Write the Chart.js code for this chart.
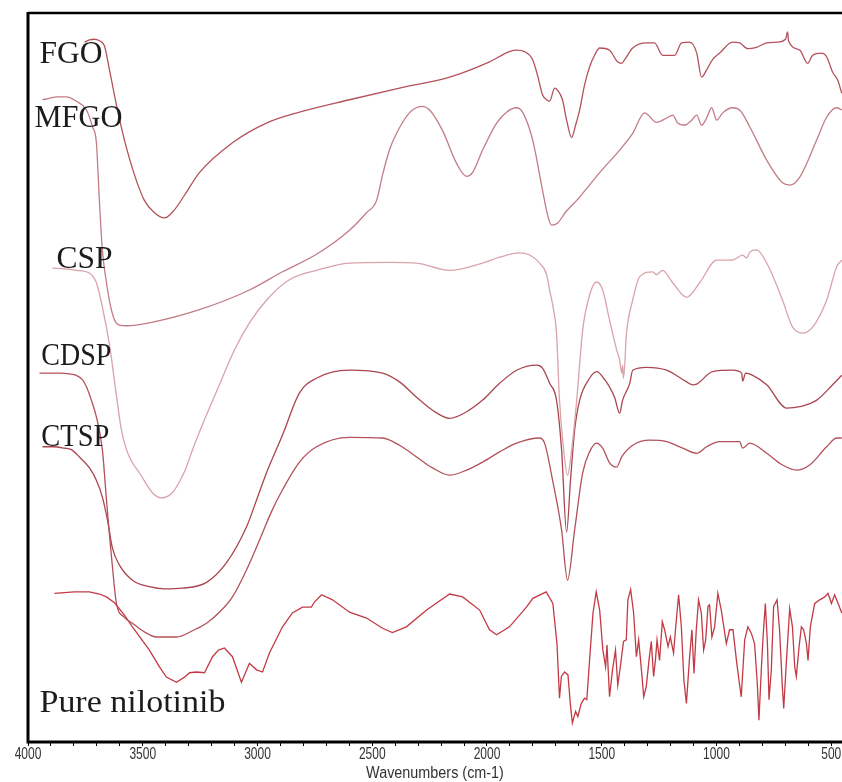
<!DOCTYPE html>
<html>
<head>
<meta charset="utf-8">
<script src="https://cdn.jsdelivr.net/npm/chart.js@4.4.1/dist/chart.umd.min.js"></script>
<style>
  html,body{margin:0;padding:0;background:#fff;}
  #wrap{width:842px;height:782px;position:relative;}
</style>
</head>
<body>
<div id="wrap"><canvas id="c" width="842" height="782"></canvas></div>
<script>
// ---- x-axis tick labels (wavenumbers, cm-1) ----
const tickLabels = [4000, 3500, 3000, 2500, 2000, 1500, 1000, 500];
const axisTitle = 'Wavenumbers (cm-1)';

// ---- series: wavenumber (cm-1) and relative transmittance (offset %) ----
const fgoWn = [3754,3732,3711,3689,3667,3645,3610,3580,3536,3493,3449,3405,3362,3318,3253,3109,2961,2817,2599,2381,2163,1989,1902,1871,1836,1801,1780,1758,1740,1727,1705,1692,1671,1653,1631,1614,1596,1575,1553,1531,1509,1466,1431,1413,1400,1365,1304,1270,1235,1182,1152,1117,1086,1065,1043,1017,986,930,899,864,825,781,733,699,690,686,637,603,581,542,520,494,472,454];
const fgoT  = [96.0,96.3,96.4,96.2,95.5,92.2,86.7,82.6,77.8,74.3,72.6,71.9,73.0,75.0,78.1,82.2,84.9,86.4,88.1,89.7,91.2,93.3,94.7,94.9,94.7,93.6,91.5,88.8,88.1,87.9,89.7,89.4,88.1,85.3,82.9,84.6,86.7,90.1,92.6,94.2,95.2,94.9,93.3,93.1,93.6,95.2,95.9,95.9,94.2,94.2,95.9,96.0,94.5,91.2,92.2,93.6,94.5,96.0,95.9,95.1,95.3,95.9,96.0,96.4,97.4,96.2,94.9,93.1,94.2,94.5,94.0,91.9,90.8,89.0];

const mfgoWn = [3937,3907,3872,3833,3789,3745,3719,3702,3689,3676,3658,3641,3623,3602,3571,3471,3253,3035,2891,2743,2599,2525,2481,2455,2425,2394,2338,2285,2250,2194,2133,2089,2063,2019,1958,1915,1871,1845,1801,1758,1736,1718,1692,1657,1609,1509,1422,1365,1313,1261,1217,1191,1169,1139,1108,1086,1065,1043,1021,999,973,930,899,855,781,712,681,637,563,520,476,454];
const mfgoT  = [88.1,88.3,88.5,88.5,87.9,86.7,84.4,82.2,74.3,67.5,63.0,59.9,57.9,57.2,57.1,57.5,59.3,62.0,64.5,66.9,70.2,72.6,74.3,77.8,81.2,83.5,86.3,87.2,86.7,83.9,79.4,77.6,78.1,81.2,84.9,86.4,87.0,86.4,82.6,75.7,72.3,70.9,71.2,72.7,74.3,78.1,81.2,83.5,86.3,85.0,85.6,86.0,84.9,84.6,85.3,86.0,84.6,85.6,87.0,85.3,86.3,87.0,86.7,84.4,79.8,76.7,76.4,77.5,82.6,85.7,87.0,86.7];

const cspWn = [3894,3841,3789,3732,3702,3676,3645,3615,3593,3571,3545,3514,3458,3419,3371,3340,3310,3283,3231,3166,3100,3035,2961,2861,2743,2599,2425,2307,2163,2019,1945,1858,1814,1771,1740,1727,1710,1697,1684,1666,1649,1631,1609,1583,1553,1522,1496,1466,1435,1422,1413,1409,1405,1392,1365,1335,1278,1261,1235,1191,1130,1073,999,930,886,868,855,825,781,712,668,624,581,520,476,454];
const cspT  = [65.0,64.9,64.7,64.3,63.0,59.7,54.5,47.6,42.8,40.1,38.3,36.9,34.2,33.5,34.2,35.7,37.7,40.1,44.2,49.0,53.8,57.5,60.6,63.4,64.7,65.7,65.8,65.7,64.7,65.7,66.5,67.1,66.8,65.7,64.1,62.0,59.3,56.1,46.9,40.1,36.6,40.1,46.9,56.5,61.3,63.1,62.0,57.9,53.8,52.4,50.6,51.7,49.9,56.1,60.6,63.8,64.5,64.1,64.7,63.0,61.0,63.0,66.1,66.1,66.8,66.4,67.2,67.5,65.7,60.6,56.9,56.1,56.9,60.6,65.2,66.1];

const cdspWn = [3950,3907,3863,3820,3789,3763,3745,3724,3702,3676,3658,3645,3632,3615,3580,3545,3493,3440,3353,3275,3222,3166,3109,3048,2991,2939,2891,2817,2743,2599,2455,2381,2307,2237,2163,2089,2019,1945,1871,1771,1749,1714,1675,1649,1618,1583,1553,1522,1496,1466,1435,1413,1365,1291,1217,1147,1086,1043,986,899,886,855,781,712,651,594,520,476,454];
const cdspT  = [50.6,50.6,50.6,50.5,50.3,49.7,48.7,46.9,44.6,40.1,33.2,28.4,24.0,19.1,17.1,16.3,15.1,14.4,14.4,15.4,16.3,17.8,19.9,23.6,27.7,31.6,34.6,38.4,40.5,41.8,41.7,40.7,39.1,37.6,36.6,37.3,38.4,39.8,41.0,41.7,41.0,35.9,29.1,22.2,29.1,36.9,39.8,41.0,40.3,38.3,37.7,39.1,40.7,41.4,41.2,40.3,39.6,40.5,41.2,41.2,40.3,41.0,39.6,38.0,37.3,38.0,40.5,41.7,41.7];

const ctspWn = [3937,3885,3841,3811,3776,3732,3702,3676,3654,3632,3602,3545,3471,3405,3327,3222,3135,3048,3004,2961,2891,2817,2743,2599,2455,2381,2307,2237,2163,2089,2019,1945,1871,1784,1758,1727,1697,1675,1653,1636,1618,1596,1553,1522,1487,1466,1444,1422,1409,1378,1365,1304,1217,1130,1104,1086,1017,930,890,886,873,842,781,694,637,563,494,454];
const ctspT  = [40.5,40.5,40.3,40.1,39.1,37.6,35.9,33.6,30.5,26.6,24.3,22.2,21.3,21.0,21.1,21.9,24.6,29.5,33.2,36.9,42.1,47.9,49.9,51.0,50.6,49.4,47.3,45.5,44.4,45.3,46.9,49.2,51.0,51.7,51.3,49.2,46.9,40.1,28.8,35.9,42.8,46.9,49.9,50.8,49.7,48.7,47.3,45.1,46.9,49.2,51.0,51.4,51.0,49.4,49.0,49.1,50.8,51.0,50.6,49.5,50.6,50.3,49.0,45.8,46.0,46.9,49.0,50.3];

const niloWn = [3885,3798,3732,3689,3658,3623,3580,3545,3471,3427,3397,3353,3318,3296,3266,3231,3196,3170,3144,3109,3070,3035,3004,2978,2948,2891,2848,2804,2765,2752,2721,2673,2599,2525,2455,2412,2351,2263,2163,2106,2032,1989,1958,1902,1828,1800,1742,1713,1695,1684,1676,1662,1647,1637,1628,1614,1604,1589,1575,1565,1553,1538,1524,1509,1495,1483,1477,1466,1453,1440,1430,1419,1405,1393,1386,1374,1361,1349,1339,1327,1317,1306,1294,1284,1274,1266,1259,1248,1236,1226,1211,1201,1187,1175,1165,1153,1142,1131,1117,1107,1098,1088,1078,1066,1056,1047,1037,1030,1020,1008,994,979,957,943,928,913,902,892,877,863,848,834,822,815,804,797,787,778,771,761,751,736,725,713,707,695,681,669,659,652,640,630,620,608,601,591,572,550,528,514,499,485,470,454];
const niloT  = [20.4,20.6,20.6,20.3,19.9,19.1,17.4,15.8,12.6,10.3,8.9,8.2,8.9,9.5,9.6,9.5,11.7,12.6,12.9,11.7,8.2,10.8,9.9,9.6,12.2,15.8,17.7,18.5,18.5,19.2,20.2,19.5,17.8,17.0,15.6,15.0,15.8,18.1,20.3,19.9,18.1,15.4,14.7,15.8,18.5,19.7,20.6,19.0,13.5,6.0,9.0,9.6,9.2,5.3,2.6,4.2,3.5,5.3,6.0,5.8,11.2,17.7,20.6,18.1,12.6,10.3,13.3,6.2,9.9,12.6,7.8,10.3,13.8,14.0,19.5,20.9,17.7,11.7,14.0,9.9,6.2,7.6,11.2,13.8,9.0,11.2,14.0,11.2,16.5,15.4,13.1,14.4,12.2,16.7,20.2,15.8,8.5,5.3,11.7,15.4,9.4,15.4,19.5,17.7,12.6,14.0,18.6,18.8,14.4,15.8,20.4,18.1,13.5,15.4,15.4,11.2,8.5,6.2,14.0,15.8,14.9,13.5,8.0,3.0,10.3,14.4,19.0,13.5,5.8,9.9,18.6,19.5,15.4,7.6,4.6,11.2,18.3,15.8,10.3,9.0,13.1,15.8,15.4,13.5,11.2,15.8,19.0,19.5,19.9,20.4,19.0,20.2,19.0,17.7];

// ---- sample labels (text + anchor in data units) ----
const labelTexts = ['FGO', 'MFGO', 'CSP', 'CDSP', 'CTSP', 'Pure nilotinib'];
const labelWn    = [3950, 3972, 3876, 3942, 3942, 3950];
const labelT     = [93.1, 84.4, 65.0, 51.7, 40.6, 4.1];

// ---- styles ----
const style = {
  labelWidths: [63, 88, 56, 70, 68, 186],
  labelFont: '31px "Liberation Serif", "Times New Roman", serif',
  tickFont: '12px "Liberation Sans", Arial, sans-serif',
  titleFont: '14.4px "Liberation Sans", Arial, sans-serif',
  colors: ['#b4525b', '#c27c84', '#d9a3a9', '#b3505a', '#a9464f', '#c23a45']
};

function pts(wn, t){ return wn.map((w,i)=>({x:w, y:t[i]})); }

const series = [
  {label:'FGO', data:pts(fgoWn, fgoT), smooth:true},
  {label:'MFGO', data:pts(mfgoWn, mfgoT), smooth:true},
  {label:'CSP', data:pts(cspWn, cspT), smooth:true},
  {label:'CDSP', data:pts(cdspWn, cdspT), smooth:true},
  {label:'CTSP', data:pts(ctspWn, ctspT), smooth:true},
  {label:'Pure nilotinib', data:pts(niloWn, niloT), smooth:false}
];

const labelPlugin = {
  id:'sampleLabels',
  afterDatasetsDraw(chart){
    const {ctx, scales:{x, y}} = chart;
    ctx.save();
    ctx.font = style.labelFont;
    ctx.fillStyle = '#1c1c1c';
    ctx.textBaseline = 'alphabetic';
    labelTexts.forEach((t,i)=>{
      const px = x.getPixelForValue(labelWn[i]);
      const py = y.getPixelForValue(labelT[i]);
      const w = ctx.measureText(t).width;
      const s = style.labelWidths[i] / w;
      ctx.save();
      ctx.translate(px, py);
      ctx.scale(s, 1);
      ctx.fillText(t, 0, 0);
      ctx.restore();
    });
    ctx.restore();
  }
};

const framePlugin = {
  id:'frame',
  afterDraw(chart){
    const {ctx, chartArea:a, scales:{x}} = chart;
    ctx.save();
    ctx.strokeStyle = '#000';
    ctx.lineWidth = 2.5;
    ctx.beginPath(); ctx.moveTo(a.left, a.top); ctx.lineTo(a.right, a.top); ctx.stroke();
    ctx.lineWidth = 3;
    ctx.beginPath(); ctx.moveTo(a.left, a.top - 1); ctx.lineTo(a.left, a.bottom); ctx.lineTo(a.right, a.bottom); ctx.stroke();
    // axis text (drawn with vertical stretch like the scanned original)
    ctx.fillStyle = '#333';
    ctx.textAlign = 'center';
    ctx.textBaseline = 'middle';
    ctx.font = style.tickFont;
    tickLabels.forEach(v=>{
      const px = x.getPixelForValue(v);
      ctx.save();
      ctx.translate(px, a.bottom + 13);
      ctx.scale(1, 1.35);
      ctx.fillText(String(v), 0, 0);
      ctx.restore();
    });
    ctx.font = style.titleFont;
    ctx.save();
    ctx.translate((a.left + a.right) / 2, a.bottom + 31);
    ctx.scale(1, 1.2);
    ctx.fillText(axisTitle, 0, 0);
    ctx.restore();
    ctx.restore();
  }
};

new Chart(document.getElementById('c'), {
  type: 'scatter',
  data: {
    datasets: series.map((s,i)=>({
      label: s.label,
      data: s.data,
      showLine: true,
      borderColor: style.colors[i],
      backgroundColor: style.colors[i],
      borderWidth: 1.3,
      pointRadius: 0,
      tension: s.smooth ? 0.4 : 0,
      cubicInterpolationMode: s.smooth ? 'monotone' : 'default',
      fill: false
    }))
  },
  options: {
    responsive: false,
    animation: false,
    layout: { padding: { left: 28, top: 13, right: 0, bottom: 36 } },
    plugins: { legend: { display: false }, tooltip: { enabled: false } },
    scales: {
      x: {
        type: 'linear',
        reverse: true,
        min: 453,
        max: 4000,
        afterBuildTicks(scale){
          const t = [];
          for (let v = 500; v <= 4000; v += 100) t.push({value: v});
          scale.ticks = t;
        },
        ticks: { display: false, autoSkip: false },
        grid: { display: true, drawOnChartArea: false, drawTicks: true, tickLength: 4, color: '#000' },
        border: { display: false },
        title: { display: false }
      },
      y: { display: false, min: 0, max: 100 }
    }
  },
  plugins: [labelPlugin, framePlugin]
});
</script>
</body>
</html>
